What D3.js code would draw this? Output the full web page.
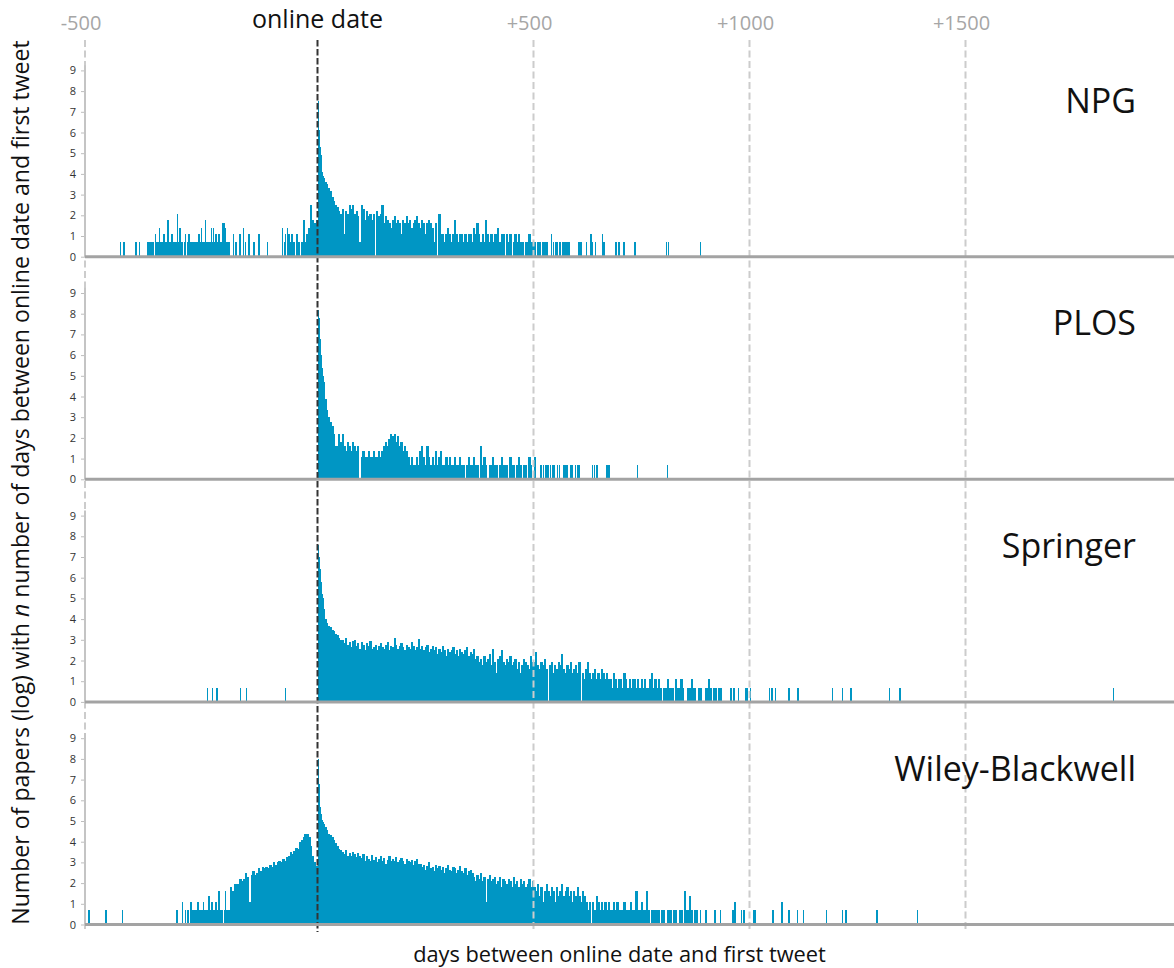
<html>
<head>
<meta charset="utf-8">
<script src="https://d3js.org/d3.v7.min.js"></script>
<style>
  body { margin: 0; background: #fff; }
  svg text { font-family: "Open Sans", "DejaVu Sans", sans-serif; }
</style>
</head>
<body>
<svg id="chart" width="1174" height="968"></svg>
<script>
// publishers, top to bottom
var publishers = ["NPG", "PLOS", "Springer", "Wiley-Blackwell"];

// x axis marks (days from online date) and their labels
var dayTicks = [-500, 0, 500, 1000, 1500];
var dayLabels = ["-500", "online date", "+500", "+1000", "+1500"];

// y axis marks, ln(number of papers)
var logTicks = [0, 1, 2, 3, 4, 5, 6, 7, 8, 9];

var binDays = 4;

// papers per day. pre = 4-day steps ending at day 0, peak = day by day from day 0,
// post = 4-day steps after the peak, sparse = single days [day, papers]
var npgPre = [2, 6, 2, 3, 4, 12, 6, 5, 6];
var npgPeak = [1808, 735, 446, 270, 200, 164, 134, 121, 90, 60, 52, 49, 47, 45, 43, 40];
var npgPost = [
  37, 33, 28, 24, 18, 15, 12, 11,
  9, 8, 10, 3, 9, 8, 12, 10, 12, 8, 9, 7, 2, 12, 10, 6, 9, 7, 8, 6, 8, 1, 9, 7, 8, 12,
  5, 7, 6, 5, 4, 6, 7, 5, 6, 5, 3, 6, 5, 7, 5, 6, 4, 5, 6, 7, 5, 4, 6, 5, 3, 5, 6, 5, 4, 2, 5, 1, 8,
  3, 3, 2, 3, 4, 3, 2, 3, 6, 3, 2, 3, 3, 2, 3, 2, 3, 3, 2, 4, 3, 5, 3, 2, 3, 2, 6, 3, 2, 3, 2, 3, 3, 4, 2, 3, 3, 1, 3, 2, 3, 1, 2, 3,
  2, 3, 2, 2, 1, 2, 2, 3, 2, 2, 2
];
var npgSparse = [
  [-425, 2], [-418, 2], [-392, 2], [-384, 2], [-366, 2], [-364, 2], [-362, 2], [-359, 2], [-357, 2], [-355, 2],
  [-350, 3], [-347, 2], [-344, 2], [-341, 4], [-339, 2], [-337, 2], [-334, 2], [-332, 3], [-329, 2], [-327, 2],
  [-325, 2], [-323, 6], [-319, 2], [-316, 2], [-314, 3], [-311, 2], [-309, 2], [-306, 2], [-303, 8], [-300, 2],
  [-297, 4], [-294, 2], [-292, 2], [-288, 2], [-285, 3], [-281, 2], [-278, 3], [-275, 2], [-271, 2], [-267, 2],
  [-263, 2], [-260, 2], [-256, 3], [-253, 2], [-251, 4], [-248, 2], [-246, 2], [-244, 2], [-242, 6], [-240, 2],
  [-238, 2], [-235, 2], [-232, 2], [-230, 4], [-227, 2], [-225, 4], [-222, 2], [-220, 3], [-217, 2], [-215, 2],
  [-213, 3], [-210, 2], [-208, 2], [-206, 5], [-203, 5], [-201, 2], [-199, 4], [-197, 2], [-195, 2], [-192, 2],
  [-182, 3], [-177, 2], [-168, 3], [-161, 4], [-156, 2], [-149, 3], [-138, 2], [-127, 3], [-109, 2], [-77, 4],
  [-73, 2], [-70, 3], [-66, 4], [-63, 3], [-59, 2], [-56, 3], [-52, 2], [-46, 3], [-41, 2],
  [508, 2], [511, 2], [515, 2], [519, 2], [523, 2], [527, 2], [530, 2], [540, 3], [544, 2], [550, 2],
  [554, 2], [558, 2], [561, 2], [565, 2], [569, 2], [573, 2], [577, 2], [581, 2], [604, 2], [608, 2],
  [621, 2], [631, 3], [635, 2], [642, 2], [658, 3], [662, 2], [689, 2], [696, 2], [708, 2], [733, 2],
  [806, 2], [811, 2], [885, 2]
];

var plosPre = [];
var plosPeak = [3641, 2981, 2441, 1480, 898, 602, 403, 330, 270, 221, 181, 148, 128, 110, 95, 81];
var plosPost = [
  49, 28, 20, 16, 13, 9, 5,
  5, 9, 6, 9, 5, 4, 6, 5, 4, 6, 5, 4, 5, 1, 3, 4, 3, 3, 4, 3, 3, 4, 3, 3, 4,
  3, 4, 5, 6, 5, 7, 9, 8, 9, 6, 8, 5, 6, 4, 5, 4,
  3, 2, 3, 2, 2, 3, 2, 4, 5, 3, 2, 5, 3, 2, 3, 2, 4, 2, 3, 4, 2, 2, 3, 2, 3, 2, 2, 3, 2,
  2, 3, 2, 2, 1, 2, 3, 2, 2, 3, 2, 2, 1, 5, 2, 3, 2, 1, 2, 2, 3, 2, 2, 1, 2, 3, 2, 2, 2, 1,
  3, 2, 2, 1, 2, 3, 2, 1, 2, 2, 1, 3, 2, 1, 3
];
var plosSparse = [
  [514, 2], [517, 2], [521, 2], [527, 2], [532, 2], [538, 2], [542, 2], [546, 2], [554, 2], [559, 2],
  [569, 2], [573, 2], [577, 2], [585, 2], [588, 2], [596, 2], [601, 2], [604, 2], [635, 2], [639, 2],
  [645, 2], [668, 2], [673, 2], [739, 2], [808, 2]
];

var springerPre = [];
var springerPeak = [1998, 1480, 1097, 812, 602, 446, 330, 245, 211, 181, 164, 148, 121, 90, 74, 60];
var springerPost = [
  55, 45, 40, 37, 33, 30, 27, 25, 22, 20,
  20, 17, 22, 16, 18, 14, 19, 20, 15, 17, 13, 18, 16, 12, 17, 15, 19, 13, 14, 16, 12, 15, 17, 14, 13, 16,
  18, 12, 15, 14, 22, 16, 13, 15, 17, 14, 12, 16, 14, 13, 18, 15, 12, 14, 21, 13, 15, 12, 14, 16, 11, 13, 15,
  12, 14, 10, 13, 11, 15, 12, 9, 13, 11, 12, 14, 10, 12, 9, 13, 11, 10, 12, 14, 9, 11, 10,
  13, 8, 9, 7, 8, 6, 9, 7, 8, 10, 6, 13, 7, 4, 8, 9, 12, 7, 6, 8, 7, 9, 6, 7, 8, 5, 7, 4, 6, 8, 7, 6, 5, 9, 7,
  7, 11, 6, 5, 7, 6, 8, 5, 1, 6, 7, 4, 6, 5, 7, 6, 10, 5, 4, 6, 5, 7, 4, 5, 6,
  4, 7, 1, 4, 3, 5, 7, 4, 3, 4, 5, 3, 4, 3, 5, 4, 3, 4, 3,
  3, 2, 4, 3, 2, 3, 3, 2, 4, 3, 2, 3, 2, 3, 3, 2, 3, 2, 3, 2, 3, 2, 2, 3, 4, 2, 3, 2, 3,
  2, 1, 2, 2, 3, 2, 2, 2, 1, 3, 2, 2, 3, 2, 1, 1, 2, 2, 3, 2, 2, 1, 2, 2, 1, 1, 2, 2, 3, 2, 1, 2, 2, 1, 2, 2
];
var springerSparse = [
  [-238, 2], [-227, 2], [-218, 2], [-167, 2], [-154, 2], [-70, 2],
  [956, 2], [962, 2], [973, 2], [990, 2], [994, 2], [1000, 2], [1045, 2], [1050, 2], [1058, 2], [1090, 2],
  [1111, 2], [1190, 2], [1214, 2], [1233, 2], [1322, 2], [1347, 2], [1841, 2]
];

var wileyPre = [
  6, 5, 7, 7, 7, 9, 8, 9, 12, 10, 3, 11, 13, 11, 12, 15, 13, 16, 15, 16, 15, 18, 16, 20,
  18, 20, 22, 20, 24, 22, 26, 27, 33, 30, 35, 40, 38, 55, 60, 70, 78, 81, 67, 45, 27, 20, 17
];
var wileyPeak = [2981, 1636, 898, 493, 299, 245, 211, 194, 172, 156, 148, 141, 134, 129, 121, 116];
var wileyPost = [
  110, 95, 81, 74, 67, 60, 52, 45, 38, 37,
  33, 30, 36, 28, 32, 27, 34, 30, 26, 31, 28,
  25, 30, 22, 27, 24, 21, 29, 23, 26, 20, 24, 28, 22, 25, 19, 23, 27, 21, 24, 22, 26, 20, 23, 25, 21, 19,
  24, 22, 20, 23, 18, 21, 24, 19,
  19, 16, 18, 14, 17, 20, 15, 16, 13, 18, 15, 17, 14, 16, 12, 15, 18, 14, 13, 16, 15, 12, 14, 17, 13, 12,
  15, 11, 13, 14,
  12, 10, 8, 11, 9, 12, 8, 10, 3, 9, 11, 8, 9, 10, 7, 8, 10, 6, 9, 8, 7, 9, 8, 6, 10, 7, 8, 6, 9, 7, 8, 6,
  7, 9, 6, 8,
  6, 5, 7, 4, 6, 3, 5, 7, 5, 4, 6, 5, 3, 6, 4, 5, 7, 4, 5, 6, 4, 5, 3, 5, 4, 6, 4, 3, 5, 4,
  3, 2, 3, 1, 3, 2, 4, 3, 2, 3, 2, 3, 2, 3, 2, 2, 3, 2, 3, 2,
  2, 2, 3, 2, 2, 2, 3, 2, 2, 5, 2, 2, 3, 2, 2, 5, 2, 1, 2, 2, 2,
  2, 2, 1, 2, 2, 1, 2, 2, 2, 1, 2, 2, 1, 2, 2, 1, 5, 2, 2, 4, 2, 1, 2, 2
];
var wileySparse = [
  [-493, 2], [-456, 2], [-421, 2], [-304, 2], [-292, 3], [-286, 2], [-280, 2], [-274, 3], [-270, 2], [-267, 2],
  [-264, 2], [-261, 2], [-259, 3], [-256, 2], [-253, 2], [-250, 2], [-247, 3], [-244, 2], [-241, 2], [-238, 2],
  [-235, 4], [-231, 2], [-228, 3], [-224, 2], [-220, 3], [-216, 2], [-213, 5], [-209, 2], [-206, 2], [-202, 2],
  [-199, 5], [-196, 2], [-193, 2], [-190, 2],
  [885, 2], [898, 2], [918, 2], [931, 2], [960, 2], [965, 3], [980, 2], [985, 2], [1009, 2], [1012, 2],
  [1053, 2], [1074, 3], [1090, 2], [1109, 2], [1123, 2], [1177, 2], [1214, 2], [1222, 2], [1293, 2], [1387, 2]
];

var panels = [
  {name: publishers[0], pre: npgPre, peak: npgPeak, post: npgPost, sparse: npgSparse},
  {name: publishers[1], pre: plosPre, peak: plosPeak, post: plosPost, sparse: plosSparse},
  {name: publishers[2], pre: springerPre, peak: springerPeak, post: springerPost, sparse: springerSparse},
  {name: publishers[3], pre: wileyPre, peak: wileyPeak, post: wileyPost, sparse: wileySparse}
];

var svg = d3.select("#chart");
var x = d3.scaleLinear().domain([-500, 0, 2000]).range([85, 317.5, 1181.5]);
var firstBase = 256.7, panelStep = 222.6, unit = 20.7;
var barColor = "#0096c4";

function barsFor(p) {
  var bars = [];
  p.pre.forEach(function(n, i) {
    var d0 = -binDays * (p.pre.length - i);
    bars.push({d0: d0, d1: d0 + binDays, n: n});
  });
  p.peak.forEach(function(n, i) {
    bars.push({d0: i, d1: i + 1, n: n});
  });
  p.post.forEach(function(n, i) {
    var d0 = p.peak.length + binDays * i;
    bars.push({d0: d0, d1: d0 + binDays, n: n});
  });
  p.sparse.forEach(function(s) {
    bars.push({d0: s[0], d1: s[0] + 1, n: s[1]});
  });
  // a day with one paper has ln(1) = 0, nothing to draw
  return bars.filter(function(b) { return b.n > 1; });
}

var barLayer = svg.append("g").attr("shape-rendering", "crispEdges");
var gridLayer = svg.append("g");
var axisLayer = svg.append("g");

panels.forEach(function(p, i) {
  var base = firstBase + i * panelStep;
  var y = d3.scaleLinear().domain([0, 9]).range([base, base - 9 * unit]);

  barLayer.append("g").selectAll("rect")
    .data(barsFor(p))
    .enter().append("rect")
    .attr("x", function(d) { return x(d.d0); })
    .attr("width", function(d) { return Math.max(x(d.d1) - x(d.d0), 1) + 0.5; })
    .attr("y", function(d) { return y(Math.log(d.n)); })
    .attr("height", function(d) { return base - y(Math.log(d.n)); })
    .attr("fill", barColor);

  var g = axisLayer.append("g");
  var axis = g.append("g")
    .attr("transform", "translate(85,0)")
    .call(d3.axisLeft(y).tickValues(logTicks).tickSize(4).tickPadding(5).tickSizeOuter(0));
  axis.select(".domain").remove();
  axis.selectAll("line").attr("stroke", "#bdbdbd");
  axis.selectAll("text").style("font-size", "11px").attr("fill", "#333");

  g.append("line")
    .attr("x1", 85).attr("x2", 85)
    .attr("y1", base).attr("y2", y(9.25))
    .attr("stroke", "#c4c4c4").attr("stroke-width", 2);

  g.append("line")
    .attr("x1", 85).attr("x2", 1174)
    .attr("y1", base).attr("y2", base)
    .attr("stroke", "#a3a3a3").attr("stroke-width", 3);

  g.append("text")
    .attr("x", 1136).attr("y", base - 144)
    .attr("text-anchor", "end")
    .style("font-size", "34px")
    .attr("fill", "#111")
    .text(p.name);
});

// vertical guides through all four panels
gridLayer.selectAll("line")
  .data(dayTicks)
  .enter().append("line")
  .attr("x1", function(d) { return x(d); })
  .attr("x2", function(d) { return x(d); })
  .attr("y1", 40).attr("y2", 932)
  .attr("stroke", function(d) { return d === 0 ? "#333" : "#cccccc"; })
  .attr("stroke-width", 2)
  .attr("stroke-dasharray", function(d) { return d === 0 ? "6.5,2.5" : "7,3.5"; });

svg.selectAll(".dayLabel")
  .data(dayTicks)
  .enter().append("text")
  .attr("class", "dayLabel")
  .attr("x", function(d) { return x(d) - (d === 0 ? 0 : 4); })
  .attr("y", function(d) { return d === 0 ? 28 : 30; })
  .attr("text-anchor", "middle")
  .style("font-size", function(d) { return d === 0 ? "25px" : "20px"; })
  .attr("fill", function(d) { return d === 0 ? "#111" : "#a6a6a6"; })
  .text(function(d, i) { return dayLabels[i]; });

// axis titles, sized to the length they take in the picture
var yTitle = svg.append("text")
  .attr("transform", "translate(29,482.5) rotate(-90)")
  .attr("text-anchor", "middle")
  .attr("fill", "#111")
  .style("font-size", "20px");
yTitle.append("tspan").text("Number of papers (log) with ");
yTitle.append("tspan").style("font-style", "italic").text("n");
yTitle.append("tspan").text(" number of days between online date and first tweet");
var yLen = yTitle.node().getComputedTextLength();
yTitle.style("font-size", (20 * 885 / yLen) + "px");

var xTitle = svg.append("text")
  .attr("x", 619.5).attr("y", 962)
  .attr("text-anchor", "middle")
  .attr("fill", "#111")
  .style("font-size", "20px")
  .text("days between online date and first tweet");
var xLen = xTitle.node().getComputedTextLength();
xTitle.style("font-size", (20 * 413 / xLen) + "px");
</script>
</body>
</html>
